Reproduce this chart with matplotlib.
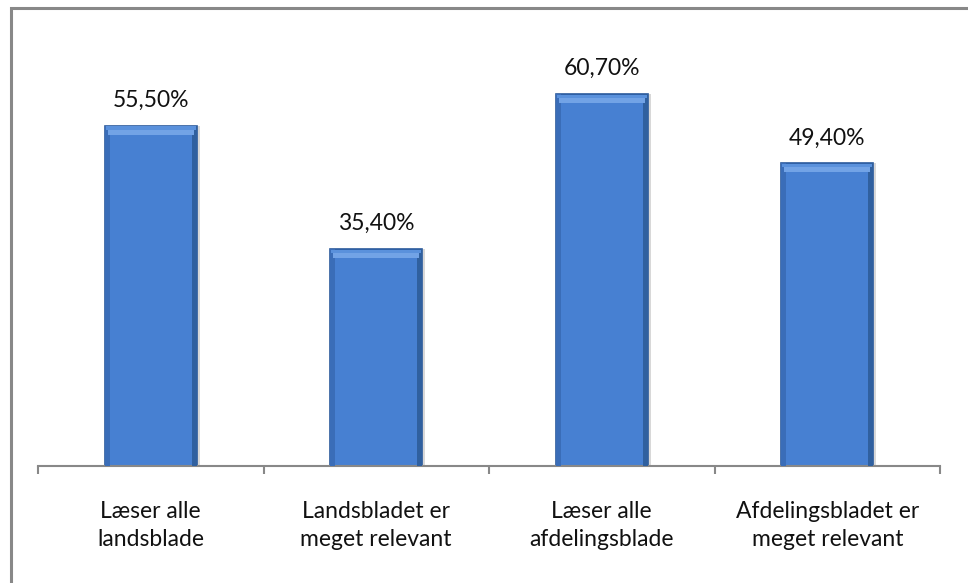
import matplotlib
matplotlib.use("Agg")
import matplotlib.pyplot as plt
from matplotlib.patches import Rectangle

categories = ["Læser alle\nlandsblade", "Landsbladet er\nmeget relevant",
              "Læser alle\nafdelingsblade", "Afdelingsbladet er\nmeget relevant"]
values = [55.5, 35.4, 60.7, 49.4]
labels = ["55,50%", "35,40%", "60,70%", "49,40%"]

plt.rcParams['font.family'] = ['Lato', 'DejaVu Sans']

fig = plt.figure(figsize=(9.68, 5.83), dpi=100)
# outer frame
fig.patches.append(Rectangle((11/968, -0.01), 1.0, 1 - 8/583 + 0.01, transform=fig.transFigure,
                             fill=False, edgecolor='#888888', linewidth=2.2))

ax = fig.add_axes([38/968, 117/583, (940-38)/968, 429/583])
x = list(range(len(values)))
w = 0.41
# shadow
ax.bar([i + 0.012 for i in x], values, width=w, color='#d8d8d8', zorder=1)
ax.bar(x, values, width=w, color='#4780d2', edgecolor='#2b5a9c', linewidth=1.2, zorder=2)
# darker side strips
ax.bar([i - w/2 + 0.012 for i in x], values, width=0.024, color='#3a6db8', zorder=3)
ax.bar([i + w/2 - 0.012 for i in x], values, width=0.024, color='#30609f', zorder=3)
# top highlight
ax.bar(x, [1.3]*4, bottom=[v - 1.5 for v in values], width=w - 0.03, color='#72a3e6', zorder=4)
ax.bar(x, [0.5]*4, bottom=[v - 0.6 for v in values], width=w - 0.01, color='#5a91dc', zorder=4)

for i, (v, t) in enumerate(zip(values, labels)):
    ax.text(i, v + 2.4, t, ha='center', va='bottom', fontsize=16.5, color='#111111')

ax.set_xlim(-0.5, len(values) - 0.5)
ax.set_ylim(0, 70)
ax.set_yticks([])
for s in ['top', 'right', 'left']:
    ax.spines[s].set_visible(False)
ax.spines['bottom'].set_color('#888888')
ax.spines['bottom'].set_linewidth(1.5)
ax.set_xticks(x)
ax.set_xticklabels(categories, fontsize=16.5, color='#111111', linespacing=1.42)
ax.tick_params(axis='x', which='major', length=0, pad=25)
ax.set_xticks([i - 0.5 for i in range(len(values) + 1)], minor=True)
ax.tick_params(axis='x', which='minor', length=6, width=1.5, color='#888888', direction='out')

fig.savefig("out.png", dpi=100)
